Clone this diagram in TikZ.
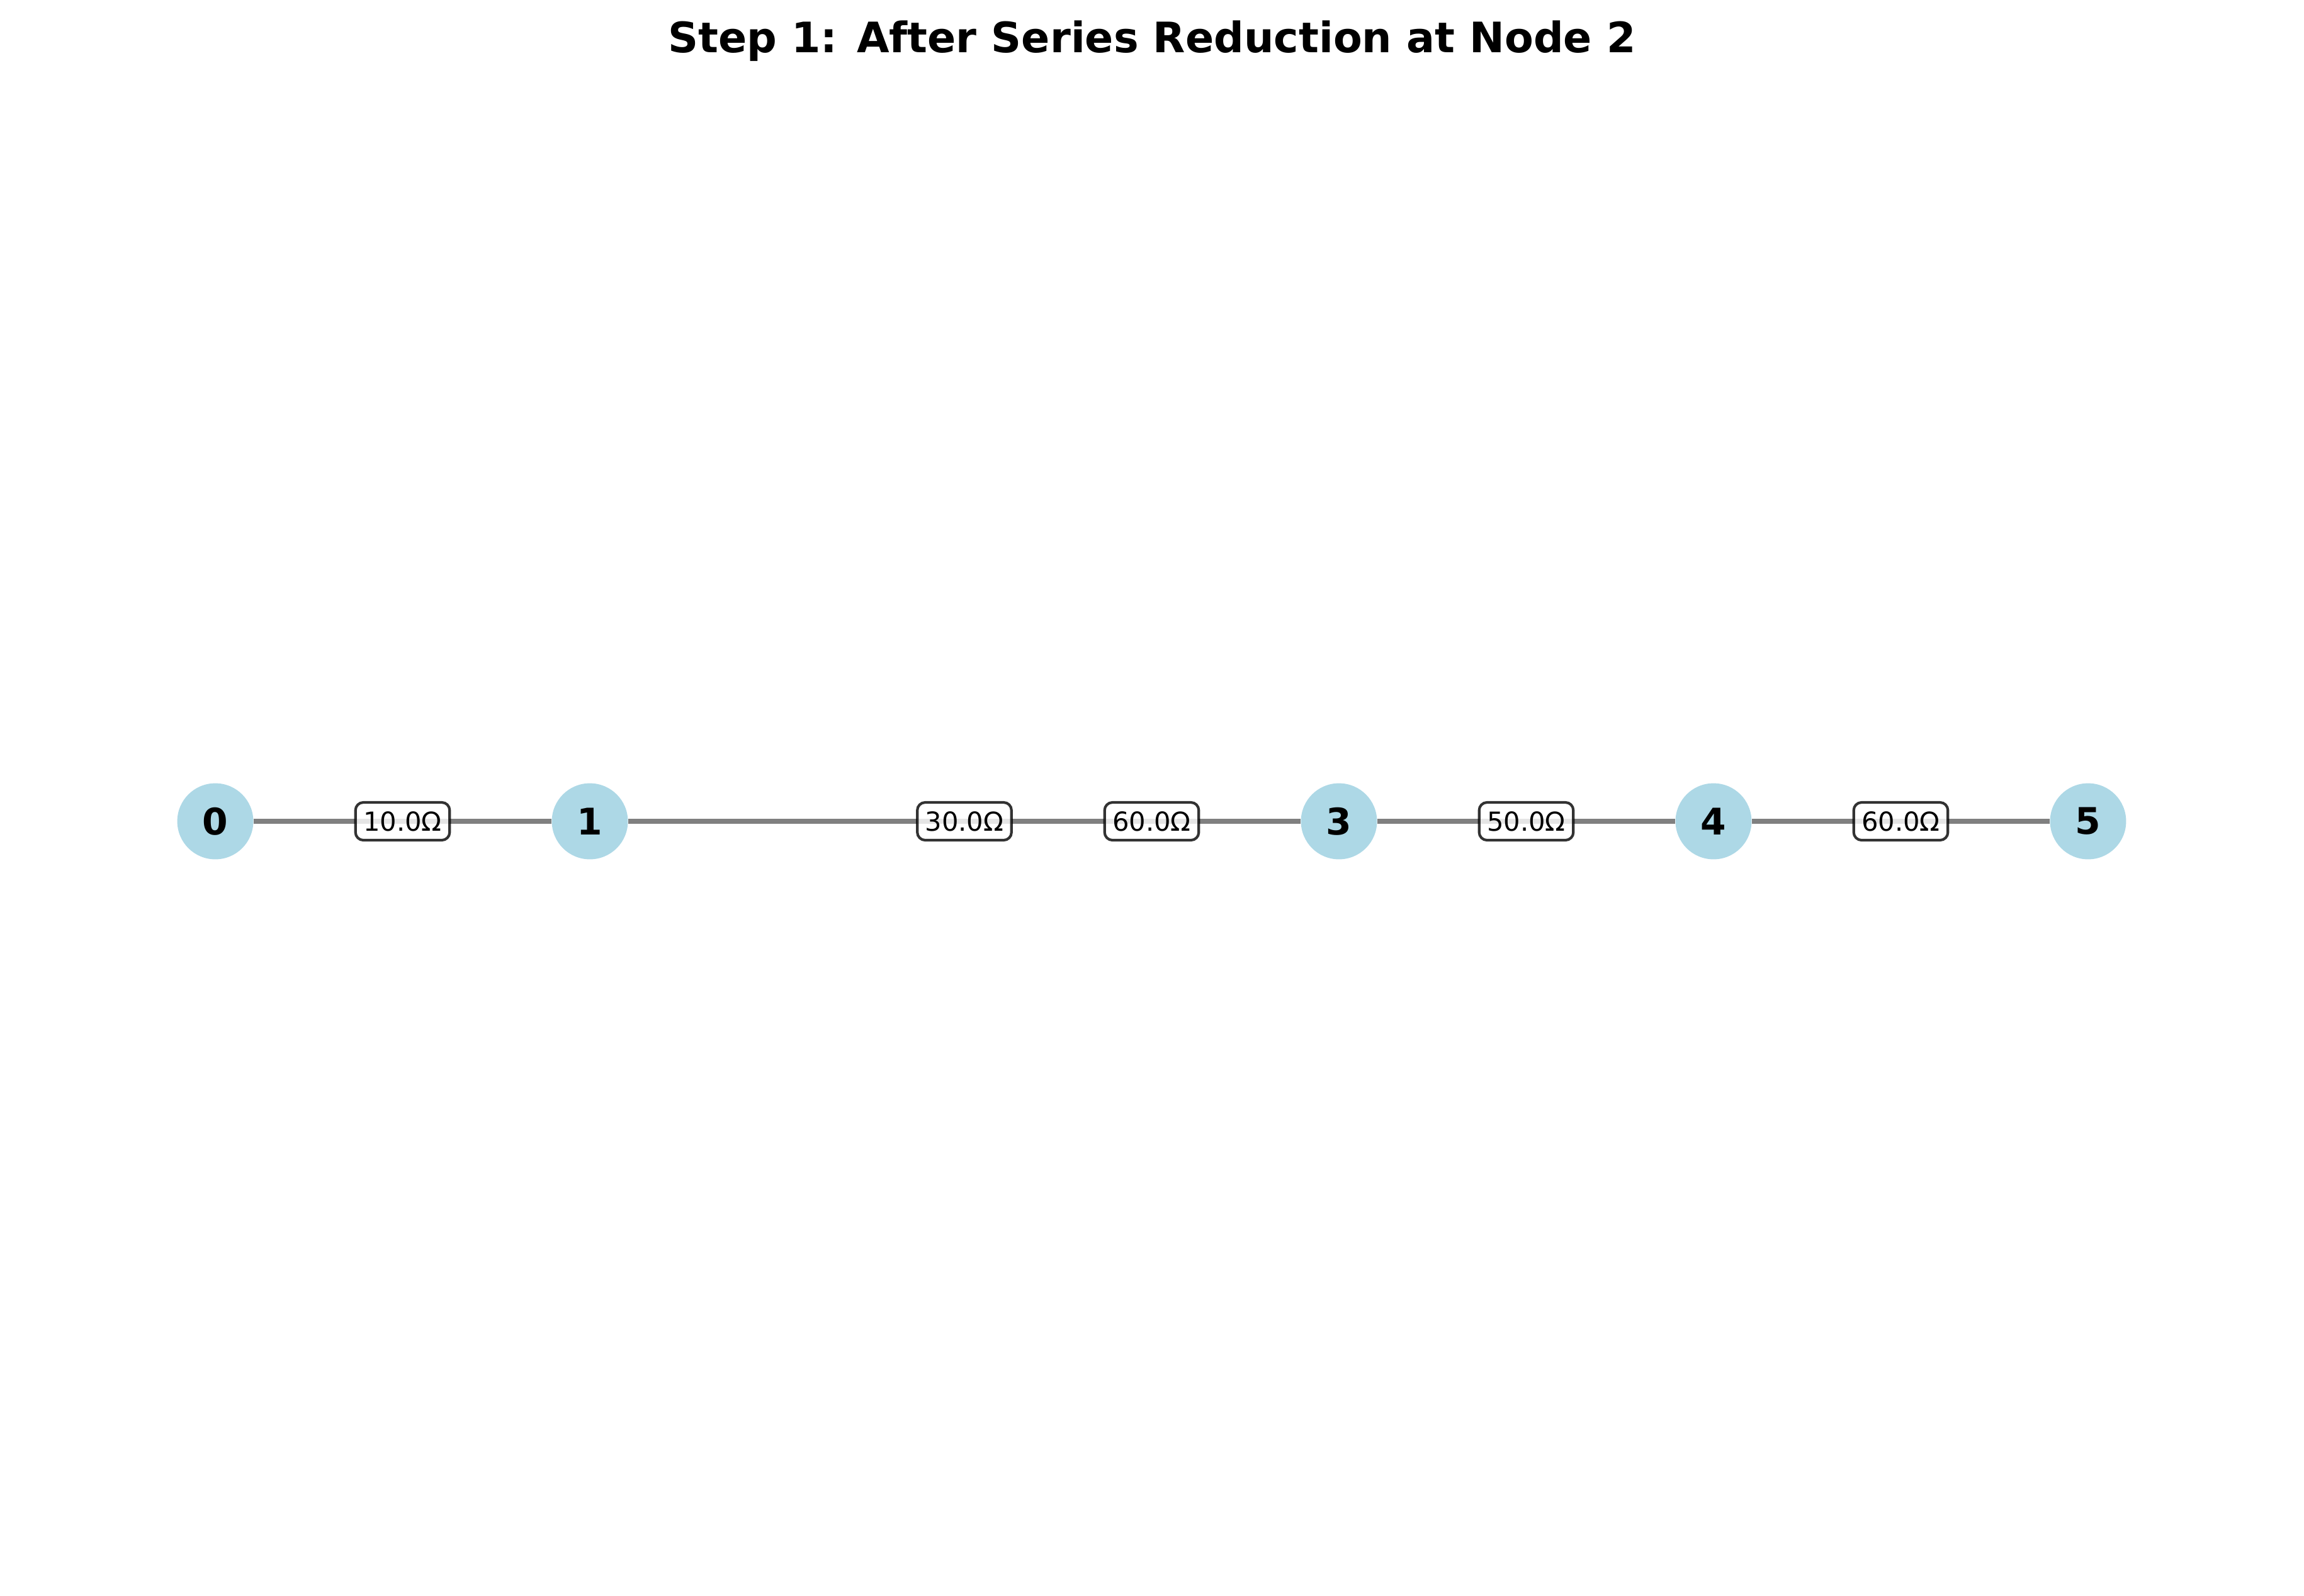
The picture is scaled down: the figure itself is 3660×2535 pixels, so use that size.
\documentclass[tikz,border=0pt]{standalone}
\usepackage{fontspec}
\setmainfont{DejaVu Sans}
\definecolor{nodeblue}{HTML}{ADD8E6}
\definecolor{edgegray}{HTML}{808080}
\begin{document}
\begin{tikzpicture}[x=0.24bp, y=-0.24bp]
    \tikzset{
        vertex/.style={circle, fill=nodeblue, minimum size=29bp, inner sep=0pt,
            font=\fontsize{14bp}{16bp}\selectfont\bfseries},
        wire/.style={draw=edgegray, line width=2bp},
        ohms/.style={draw=black, draw opacity=0.8, fill=white, fill opacity=0.8,
            text opacity=1, rounded corners=3bp, line width=1bp, inner xsep=3bp,
            inner ysep=0pt, minimum height=14.4bp, font=\fontsize{10bp}{12bp}\selectfont}
    }
    \useasboundingbox (0,0) rectangle (3660,2535);

    % title
    \node[anchor=base, font=\fontsize{16bp}{19bp}\selectfont\bfseries] (title) at (1830,83)
        {Step 1: After Series Reduction at Node 2};

    % nodes left after the reduction
    \node[vertex] (n0) at (342,1305) {0};
    \node[vertex] (n1) at (937,1305) {1};
    \coordinate (n2) at (1532,1305);
    \node[vertex] (n3) at (2127,1305) {3};
    \node[vertex] (n4) at (2722,1305) {4};
    \node[vertex] (n5) at (3317,1305) {5};

    \draw[wire] (n0) -- node[ohms] (r01) {10.0Ω} (n1);
    \draw[wire] (n1) -- node[ohms] (r13) {30.0Ω} (n3);
    \path (n2) -- node[ohms] (r23) {60.0Ω} (n3.center);
    \draw[wire] (n3) -- node[ohms] (r34) {50.0Ω} (n4);
    \draw[wire] (n4) -- node[ohms] (r45) {60.0Ω} (n5);
\end{tikzpicture}
\end{document}
